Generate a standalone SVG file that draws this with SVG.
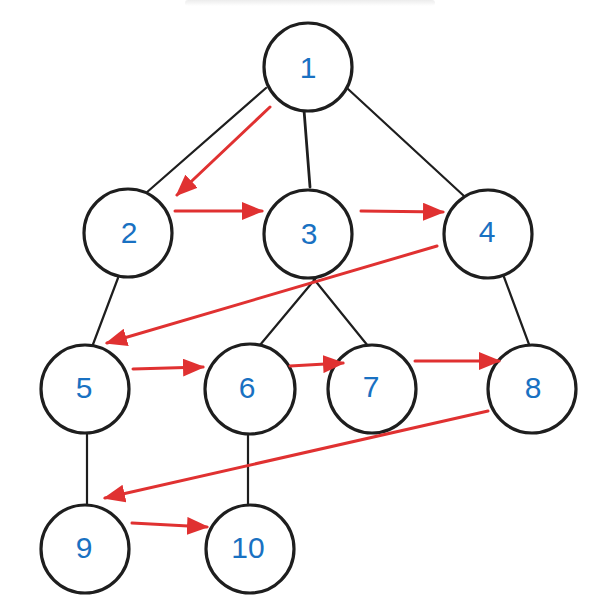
<svg xmlns="http://www.w3.org/2000/svg" width="600" height="609" viewBox="0 0 600 609">
<style>
.node circle{fill:#ffffff;stroke:#1e1e1e;stroke-width:3.2}
.node text{font-family:"Liberation Sans","DejaVu Sans",sans-serif;font-size:30px;fill:#1971c2;text-anchor:middle;dominant-baseline:central}
.edge{stroke:#1e1e1e;stroke-width:2.2;fill:none;stroke-linecap:round}
.arr{stroke:#e03131;stroke-width:3;fill:none;stroke-linecap:round}
</style>
<defs>
<marker id="ah" viewBox="0 0 22 18" refX="20" refY="9" markerWidth="22" markerHeight="18" markerUnits="userSpaceOnUse" orient="auto">
<path d="M0,0 L22,9 L0,18 Z" fill="#e03131"/>
</marker>
<linearGradient id="sh" x1="0" y1="0" x2="0" y2="1">
<stop offset="0" stop-color="#ececec"/>
<stop offset="1" stop-color="#ffffff"/>
</linearGradient>
</defs>
<rect width="600" height="609" fill="#ffffff"/>
<rect x="185" y="0" width="250" height="6" rx="3" fill="url(#sh)"/>
<g id="edges">
<line class="edge" x1="266" y1="88" x2="146" y2="193"/>
<line class="edge" x1="304" y1="110" x2="310" y2="187" style="stroke-width:2.8"/>
<line class="edge" x1="348" y1="89" x2="464" y2="196"/>
<line class="edge" x1="118" y1="278" x2="92" y2="347"/>
<line class="edge" x1="316" y1="278" x2="260" y2="345"/>
<line class="edge" x1="313" y1="278" x2="368" y2="346"/>
<line class="edge" x1="504" y1="277" x2="530" y2="347"/>
<line class="edge" x1="87" y1="433" x2="87" y2="505"/>
<line class="edge" x1="248" y1="435" x2="248" y2="505"/>
</g>
<g id="nodes">
<g id="n1" class="node"><circle cx="308" cy="67" r="44"/><text x="308" y="67">1</text></g>
<g id="n2" class="node"><circle cx="128" cy="233" r="44"/><text x="129" y="232">2</text></g>
<g id="n3" class="node"><circle cx="308" cy="234" r="44"/><text x="309" y="233">3</text></g>
<g id="n4" class="node"><circle cx="488" cy="234" r="44"/><text x="487" y="231">4</text></g>
<g id="n5" class="node"><circle cx="85" cy="389" r="44"/><text x="84" y="387">5</text></g>
<g id="n6" class="node"><circle cx="250" cy="389" r="45"/><text x="247" y="387">6</text></g>
<g id="n7" class="node"><circle cx="372" cy="389" r="44"/><text x="371" y="386">7</text></g>
<g id="n8" class="node"><circle cx="532" cy="389" r="44"/><text x="533" y="387">8</text></g>
<g id="n9" class="node"><circle cx="85" cy="549" r="44"/><text x="84" y="547">9</text></g>
<g id="n10" class="node"><circle cx="250" cy="549" r="44"/><text x="248" y="547">10</text></g>
</g>
<g id="arrows">
<line class="arr" x1="270" y1="107" x2="177" y2="195" marker-end="url(#ah)"/>
<line class="arr" x1="175" y1="211" x2="262" y2="211" marker-end="url(#ah)"/>
<line class="arr" x1="361" y1="211" x2="443" y2="212" marker-end="url(#ah)"/>
<line class="arr" x1="437" y1="246" x2="107" y2="343" marker-end="url(#ah)"/>
<line class="arr" x1="133" y1="369" x2="203" y2="367" marker-end="url(#ah)"/>
<line class="arr" x1="290" y1="366" x2="343" y2="363" marker-end="url(#ah)"/>
<line class="arr" x1="415" y1="361" x2="499" y2="361" marker-end="url(#ah)"/>
<line class="arr" x1="488" y1="411" x2="105" y2="498" marker-end="url(#ah)"/>
<line class="arr" x1="132" y1="523" x2="207" y2="527" marker-end="url(#ah)"/>
</g>
</svg>
